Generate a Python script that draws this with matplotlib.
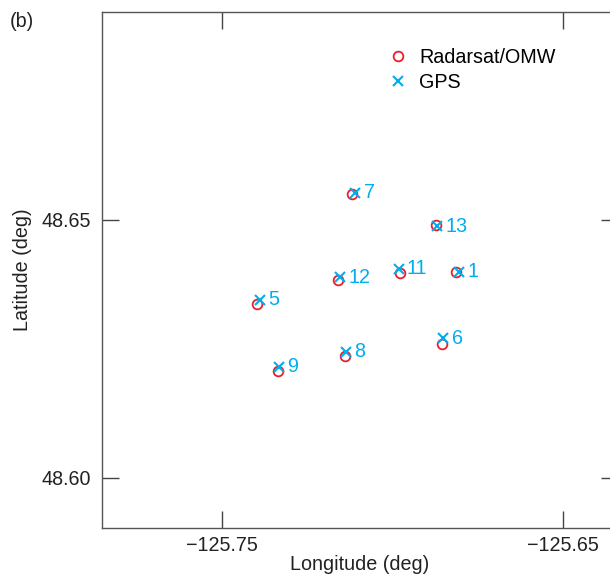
import numpy as np
import matplotlib
matplotlib.use("Agg")
import matplotlib.pyplot as plt
from matplotlib import rcParams

rcParams['font.family'] = ['Liberation Sans', 'DejaVu Sans']

# station ids and positions
stations = ['7', '13', '1', '11', '12', '5', '6', '8', '9']
radar_lon = [-125.7119, -125.6874, -125.6814, -125.6977, -125.7160, -125.7396, -125.6855, -125.7138, -125.7336]
radar_lat = [48.6550, 48.6491, 48.6399, 48.6398, 48.6384, 48.6338, 48.6259, 48.6236, 48.6208]
gps_lon = [-125.7109, -125.6869, -125.6804, -125.6982, -125.7153, -125.7388, -125.6851, -125.7136, -125.7333]
gps_lat = [48.6553, 48.6488, 48.6400, 48.6405, 48.6389, 48.6345, 48.6271, 48.6245, 48.6216]

red = '#e8202a'
cyan = '#00aeef'
fs = 14.2

fig = plt.figure(figsize=(6.1, 5.77), dpi=100)
ax = fig.add_axes([0.1672, 0.0849, 0.8459, 0.8943])

ax.plot(radar_lon, radar_lat, 'o', mfc='none', mec=red, mew=1.3, ms=7, label='Radarsat/OMW')
ax.plot(gps_lon, gps_lat, 'x', color=cyan, mew=1.5, ms=7.5, label='GPS')

for s, x, y in zip(stations, gps_lon, gps_lat):
    ax.annotate(s, (x, y), xytext=(6, 0), textcoords='offset points',
                color=cyan, fontsize=fs, va='center', ha='left')

ax.set_xlim(-125.785, -125.634)
ax.set_ylim(48.5903, 48.6903)
ax.set_xticks([-125.75, -125.65])
ax.set_yticks([48.60, 48.65])
ax.set_xticklabels(['\u2212125.75', '\u2212125.65'])
ax.set_yticklabels(['48.60', '48.65'])

ax.tick_params(direction='in', length=12.5, width=1, color='#444444',
               labelsize=fs, top=True, right=True, pad=8, labelcolor='#222222')
ax.tick_params(axis='x', pad=6)
for sp in ax.spines.values():
    sp.set_color('#555555')
    sp.set_linewidth(1)

ax.set_xlabel('Longitude (deg)', fontsize=fs, color='#222222', labelpad=0)
ax.set_ylabel('Latitude (deg)', fontsize=fs, color='#222222', labelpad=7)

ax.legend(loc='upper left', bbox_to_anchor=(0.54, 0.945), frameon=False,
          fontsize=fs, handlelength=1.0, handletextpad=0.55, labelspacing=0.3,
          borderaxespad=0)

fig.text(0.016, 0.962, '(b)', fontsize=fs, color='#222222', va='center')

fig.savefig('out.png', dpi=100)
